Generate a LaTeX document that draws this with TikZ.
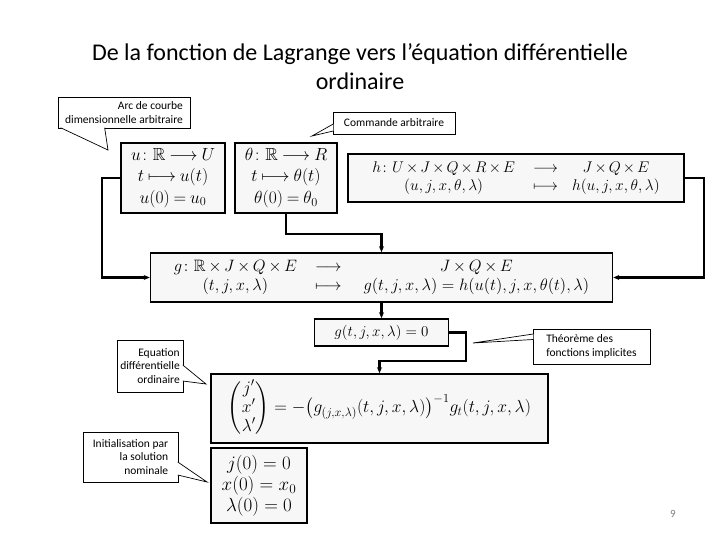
\RequirePackage{fix-cm}
\documentclass[tikz,border=0pt]{standalone}
\usepackage{amsmath,amssymb}
\usepackage{fontspec}
\usepackage{tikz}
\usetikzlibrary{arrows.meta}
\newfontfamily\calibri{Carlito}

\begin{document}
\begin{tikzpicture}[x=1pt, y=-1pt,
  mapbox/.style={draw, line width=1.6pt, fill=gray!6, inner sep=0pt, align=center},
  note/.style={draw, line width=0.7pt, fill=white, inner sep=0pt, font={\calibri\fontsize{11.5}{13.5}\selectfont}},
  notetail/.style={draw, fill=white, line width=0.7pt},
  flow/.style={line width=2.2pt, -{Stealth[length=6pt,width=5pt]}}]
\useasboundingbox[fill=white] (0,0) rectangle (720,540);
\node[font={\calibri\fontsize{24}{29}\selectfont}, align=center] (title) at (360,67) {De la fonction de Lagrange vers l’équation différentielle\\ordinaire};
\node[mapbox, minimum width=104, minimum height=70, font={\fontsize{17.5}{21.5}\selectfont\thickmuskip=4mu}] (uMap) at (173,178) {$u\colon \mathbb{R}\longrightarrow U$\\$t\longmapsto u(t)$\\$u(0)=u_0$};
\node[mapbox, minimum width=102, minimum height=70, font={\fontsize{17.5}{21.5}\selectfont\thickmuskip=4mu}] (thetaMap) at (286,178) {$\theta\colon \mathbb{R}\longrightarrow R$\\$t\longmapsto \theta(t)$\\$\theta(0)=\theta_0$};
\node[mapbox, minimum width=336, minimum height=48, font={\fontsize{15.5}{18}\selectfont\medmuskip=2.5mu}] (hMap) at (516,178) {$\begin{array}{c@{\hspace{18pt}}c@{\hspace{14pt}}c} h\colon U\times J\times Q\times R\times E & \longrightarrow & J\times Q\times E\\ (u,j,x,\theta,\lambda) & \longmapsto & h(u,j,x,\theta,\lambda)\end{array}$};
\node[mapbox, minimum width=462, minimum height=49, font={\fontsize{16.5}{18.5}\selectfont\medmuskip=3mu}] (gMap) at (381.5,277.5) {$\begin{array}{c@{\hspace{18pt}}c@{\hspace{22pt}}c} g\colon \mathbb{R}\times J\times Q\times E & \longrightarrow & J\times Q\times E\\ (t,j,x,\lambda) & \longmapsto & g(t,j,x,\lambda)=h(u(t),j,x,\theta(t),\lambda)\end{array}$};
\node[mapbox, minimum width=134, minimum height=27, font={\fontsize{15}{17}\selectfont}] (zeroEq) at (381.5,332.5) {$g(t,j,x,\lambda)=0$};
\node[mapbox, minimum width=337, minimum height=69, font={\fontsize{17.5}{19}\selectfont}] (odeEq) at (379.5,408.5) {$\begin{pmatrix} j'\\ x'\\ \lambda'\end{pmatrix}=-\bigl(g_{(j,x,\lambda)}(t,j,x,\lambda)\bigr)^{-1}g_t(t,j,x,\lambda)$};
\node[mapbox, minimum width=96, minimum height=75, font={\fontsize{19}{21}\selectfont}] (initEq) at (259,485.5) {$j(0)=0$\\$x(0)=x_0$\\$\lambda(0)=0$};
\draw[flow] (uMap.west) -- ++(-18,0) |- (gMap.west);
\draw[flow] (thetaMap.south) -- ++(0,20) -| (gMap.north);
\draw[flow] (hMap.east) -- ++(19,0) |- (gMap.east);
\draw[flow] (gMap.south) -- (zeroEq.north);
\draw[flow] (zeroEq.east) -- ++(17,0) -- ++(0,28.5) -| (odeEq.north);
\node[note, minimum width=132, minimum height=31, align=right] (arcNote) at (124,112.5) {Arc de courbe\\dimensionnelle arbitraire};
\coordinate (arcTip) at (108,150);
\filldraw[notetail] ([shift={(3,-0.6)}]arcNote.south west) -- (arcTip) -- ([shift={(47,-0.6)}]arcNote.south west);
\node[note, minimum width=122, minimum height=22] (cmdNote) at (394,123) {Commande arbitraire};
\coordinate (cmdTip) at (312,136);
\filldraw[notetail] ([shift={(0.6,1)}]cmdNote.west) -- (cmdTip) -- ([shift={(0.6,8)}]cmdNote.west);
\node[note, minimum width=66, minimum height=52, align=right] (odeNote) at (150,366) {Equation\\différentielle\\ordinaire};
\coordinate (odeTip) at (206,384);
\filldraw[notetail] ([shift={(-0.6,-1)}]odeNote.east) -- (odeTip) -- ([shift={(-0.6,15)}]odeNote.east);
\node[note, minimum width=95, minimum height=50, align=right] (initNote) at (130.5,457) {Initialisation par\\la solution\\nominale};
\coordinate (initTip) at (207,482);
\filldraw[notetail] ([shift={(-0.6,5)}]initNote.east) -- (initTip) -- ([shift={(-0.6,18)}]initNote.east);
\node[note, minimum width=117, minimum height=35, align=left] (ifNote) at (591.5,346.5) {Théorème des\\fonctions implicites};
\coordinate (ifTip) at (473,343);
\filldraw[notetail] ([shift={(0.6,-12.5)}]ifNote.west) -- (ifTip) -- ([shift={(0.6,-7)}]ifNote.west);
\node[font={\calibri\fontsize{11}{13}\selectfont}, text=gray] (pageNum) at (673,514) {9};
\end{tikzpicture}
\end{document}
